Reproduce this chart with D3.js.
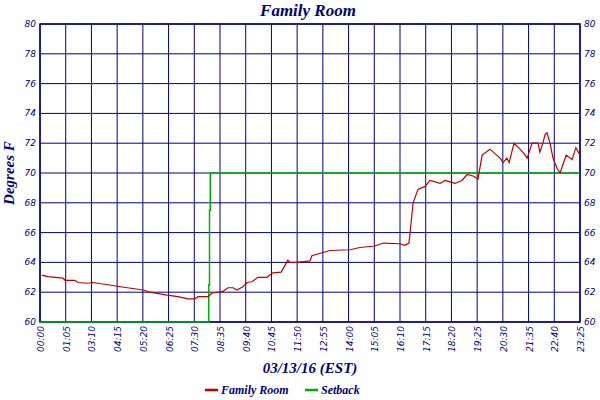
<!DOCTYPE html><html><head><meta charset="utf-8">
<script src="https://cdn.jsdelivr.net/npm/d3@7"></script>
<style>body{margin:0;background:#fff}text{font-style:italic;fill:#000080}</style></head><body>
<svg id="c" width="600" height="400"></svg>
<script>
const roomTimes=[5,21,61,67,93,101,128,141,181,219,275,293,339,368,395,413,421,448,459,488,501,515,525,540,552,565,581,605,621,643,661,666,683,720,725,773,827,853,893,915,960,973,984,995,1008,1027,1040,1067,1080,1107,1125,1139,1155,1168,1179,1200,1213,1227,1235,1245,1251,1256,1264,1280,1291,1299,1307,1312,1328,1333,1341,1347,1352,1360,1368,1379,1387,1395,1403,1419,1429,1440];
const roomValues=[63.15,63.05,62.95,62.8,62.8,62.65,62.6,62.65,62.5,62.35,62.15,62.0,61.8,61.7,61.55,61.55,61.7,61.7,61.95,62.05,62.3,62.3,62.15,62.35,62.65,62.7,63.0,63.0,63.3,63.35,64.15,64.0,64.0,64.1,64.45,64.8,64.85,65.0,65.1,65.3,65.25,65.15,65.3,68.0,68.9,69.1,69.5,69.3,69.5,69.3,69.5,69.9,69.8,69.6,71.2,71.6,71.3,71.0,70.7,71.0,70.7,71.2,72.0,71.6,71.3,71.0,71.6,72.0,72.0,71.4,72.0,72.6,72.7,72.0,71.0,70.3,70.0,70.6,71.2,70.9,71.7,71.2];
const setbackTimes=[0,448,450,452,454,1440];
const setbackValues=[60,60,62.5,67.5,70,70];
const xTicks=["00:00","01:05","03:10","04:15","05:20","06:25","07:30","08:35","09:40","10:45","11:50","12:55","14:00","15:05","16:10","17:15","18:20","19:25","20:30","21:35","22:40","23:25"];
const yTicks=[60,62,64,66,68,70,72,74,76,78,80];
const svg=d3.select("#c"), L=40,R=580,T=24,B=322, navy="#000080";
const x=d3.scaleLinear().domain([0,1440]).range([L,R]);
const y=d3.scaleLinear().domain([60,80]).range([B,T]);
const xt=d3.scalePoint().domain(xTicks).range([L,R]);
const g=svg.append("g");
yTicks.forEach(v=>g.append("line").attr("x1",L).attr("x2",R).attr("y1",y(v)).attr("y2",y(v)).attr("stroke",navy));
xTicks.forEach(lab=>{const px=xt(lab);g.append("line").attr("x1",px).attr("x2",px).attr("y1",T).attr("y2",B).attr("stroke",navy);
 g.append("text").attr("transform",`translate(${px+4},${B+4}) rotate(-90)`).attr("text-anchor","end").style("font-family","DejaVu Sans").attr("font-size",9).text(lab);});
yTicks.forEach(v=>{g.append("text").attr("x",L-4).attr("y",y(v)+3).attr("text-anchor","end").style("font-family","DejaVu Sans").attr("font-size",9).text(v);
 g.append("text").attr("x",R+4).attr("y",y(v)+3).style("font-family","DejaVu Sans").attr("font-size",9).text(v);});
g.append("rect").attr("x",L).attr("y",T).attr("width",R-L).attr("height",B-T).attr("fill","none").attr("stroke",navy).attr("stroke-width",1.5);
const sb=setbackTimes.map((t,i)=>[t,setbackValues[i]]);
svg.append("path").attr("d",d3.line().x(d=>x(d[0])).y(d=>y(d[1])).curve(d3.curveStepAfter)(sb)).attr("fill","none").attr("stroke","#00b000").attr("stroke-width",1.5);
const rm=roomTimes.map((t,i)=>[t,roomValues[i]]);
svg.append("path").attr("d",d3.line().x(d=>x(d[0])).y(d=>y(d[1]))(rm)).attr("fill","none").attr("stroke","#c00000").attr("stroke-width",1.2);
const serif=s=>s.style("font-family","Liberation Serif").attr("font-weight","bold");
serif(svg.append("text").attr("x",308).attr("y",16).attr("text-anchor","middle").attr("font-size",17)).text("Family Room");
serif(svg.append("text").attr("x",310).attr("y",373).attr("text-anchor","middle").attr("font-size",15)).text("03/13/16 (EST)");
serif(svg.append("text").attr("transform","translate(14,173) rotate(-90)").attr("text-anchor","middle").attr("font-size",15)).text("Degrees F");
[["Family Room","#c00000",205],["Setback","#00b000",305]].forEach(([n,c,lx])=>{svg.append("line").attr("x1",lx).attr("x2",lx+13).attr("y1",390).attr("y2",390).attr("stroke",c).attr("stroke-width",2.5);
 serif(svg.append("text").attr("x",lx+16).attr("y",394).attr("font-size",12)).text(n);});
</script></body></html>
